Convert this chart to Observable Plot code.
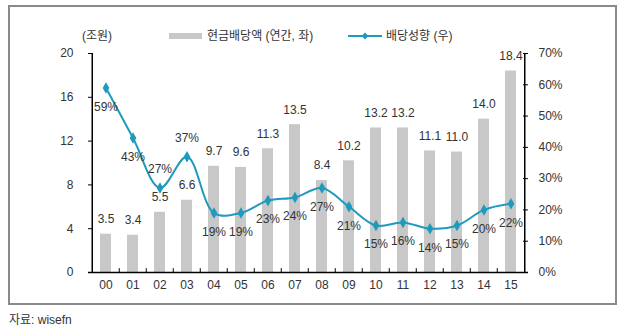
<!DOCTYPE html>
<html>
<head>
<meta charset="utf-8">
<script src="https://cdn.jsdelivr.net/npm/d3@7"></script>
<script src="https://cdn.jsdelivr.net/npm/@observablehq/plot@0.6"></script>
<style>
  html, body { margin: 0; padding: 0; background: #fff; }
  body { width: 622px; height: 334px; position: relative; overflow: hidden;
         font-family: "Liberation Sans", "Noto Sans CJK KR", sans-serif; color: #333; }
  #chart { position: absolute; left: 0; top: 0; }
  .border { position: absolute; left: 8px; top: 5px; width: 605px; height: 296px;
            border: 2px solid #8a8a8a; }
  .lg { position: absolute; font-size: 12px; line-height: 14px; white-space: nowrap; }
  .caption { position: absolute; left: 9px; top: 310px; font-size: 12px; color: #333; }
</style>
</head>
<body>
<div class="border"></div>
<div id="chart"></div>
<div class="lg" style="left:82px; top:29px;">(조원)</div>
<div class="lg" style="left:169px; top:33px; width:33px; height:6px; background:#c8c8c8;"></div>
<div class="lg" style="left:207px; top:29px;">현금배당액 (연간, 좌)</div>
<svg class="lg" style="left:346px; top:30px;" width="38" height="12">
  <line x1="2" y1="6" x2="36" y2="6" stroke="#1e9abd" stroke-width="2"/>
  <path d="M19,2.5 L22.5,6 L19,9.5 L15.5,6 Z" fill="#1e9abd"/>
</svg>
<div class="lg" style="left:386px; top:29px;">배당성향 (우)</div>
<div class="caption">자료: wisefn</div>
<script>
const years = ["00","01","02","03","04","05","06","07","08","09","10","11","12","13","14","15"];
const dividends = [3.5, 3.4, 5.5, 6.6, 9.7, 9.6, 11.3, 13.5, 8.4, 10.2, 13.2, 13.2, 11.1, 11.0, 14.0, 18.4];
const payout = [59, 43, 27, 37, 19, 19, 23, 24, 27, 21, 15, 16, 14, 15, 20, 22];
const payoutLabelAbove = [false, false, true, true, false, false, false, false, false, false, false, false, false, false, false, false];
const leftTicks = [0, 4, 8, 12, 16, 20];
const rightTicks = [0, 10, 20, 30, 40, 50, 60, 70];

const k = 20 / 70; // right axis (%) mapped onto left axis scale
const rows = years.map((y, i) => ({year: y, div: dividends[i], pct: payout[i], pctY: payout[i] * k, above: payoutLabelAbove[i]}));

const teal = "#1e9abd";
const fontFam = "'Liberation Sans', 'Noto Sans CJK KR', sans-serif";

const plot = Plot.plot({
  width: 622,
  height: 334,
  marginLeft: 88,
  marginRight: 94,
  marginTop: 53,
  marginBottom: 62,
  style: {fontSize: "12px", fontFamily: fontFam, color: "#333", background: "transparent"},
  x: {type: "band", domain: years, padding: 0},
  y: {domain: [0, 20]},
  marks: [
    Plot.barY(rows, {x: "year", y: "div", fill: "#c8c8c8", insetLeft: 8, insetRight: 8}),
    // axis lines
    Plot.ruleY([0], {stroke: "#000", strokeWidth: 1.5}),
    Plot.ruleX([years[0]], {x: d => d, dx: -13.75, y1: 0, y2: 20, stroke: "#000", strokeWidth: 1.5}),
    Plot.ruleX([years[years.length - 1]], {x: d => d, dx: 13.75, y1: 0, y2: 20, stroke: "#000", strokeWidth: 1.5}),
    // inward ticks
    Plot.tickY(leftTicks, {y: d => d, insetRight: 440 - 5, stroke: "#000"}),
    Plot.tickY(rightTicks.map(p => p * k), {y: d => d, insetLeft: 440 - 5, stroke: "#000"}),
    Plot.ruleX(years.slice(1), {x: d => d, dx: -13.75, y1: 0, y2: 0.35, stroke: "#000"}),
    // axes labels
    Plot.axisY({anchor: "left", ticks: leftTicks, tickSize: 0, tickPadding: 15, tickFormat: d => d, label: null}),
    Plot.axisY({anchor: "right", ticks: rightTicks.map(p => p * k), tickSize: 0, tickPadding: 10,
                tickFormat: d => Math.round(d / k) + "%", label: null}),
    Plot.axisX({anchor: "bottom", tickSize: 0, tickPadding: 8, label: null}),
    // bar labels
    Plot.text(rows, {x: "year", y: "div", text: d => d.div.toFixed(1), dy: -15, fill: "#333"}),
    // payout line
    Plot.line(rows, {x: "year", y: "pctY", stroke: teal, strokeWidth: 2, curve: "catmull-rom"}),
    Plot.dot(rows, {x: "year", y: "pctY", symbol: "diamond", r: 3.5, fill: teal, stroke: null}),
    Plot.text(rows, {x: "year", y: "pctY", text: d => d.pct + "%", dy: d => 0, fill: "#333",
      filter: d => !d.above, dy: 19}),
    Plot.text(rows, {x: "year", y: "pctY", text: d => d.pct + "%", fill: "#333",
      filter: d => d.above, dy: -19})
  ]
});
document.getElementById("chart").appendChild(plot);
</script>
</body>
</html>
